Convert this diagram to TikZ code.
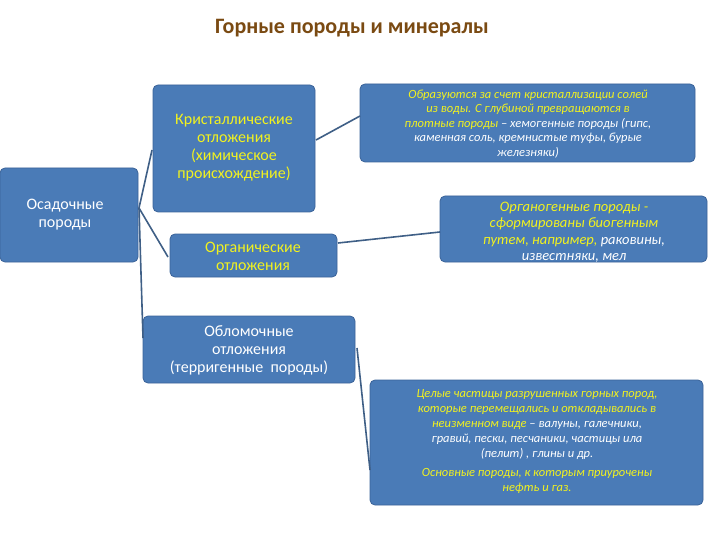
\documentclass[tikz,border=0pt]{standalone}
\usepackage{fontspec}
\setmainfont{Carlito}
\begin{document}
\begin{tikzpicture}[x=1pt,y=-1pt,
 bx/.style={fill=boxblue,draw=boxedge,line width=0.8pt,rounded corners=5pt},
 conn/.style={draw=lineblue,line width=1.6pt},
 ty/.style={text=yel,align=center,font=\fontsize{16}{18}\selectfont},
 tw/.style={text=white,align=center,font=\fontsize{16}{18}\selectfont},
 ti/.style={align=center,font=\itshape\fontsize{12.5}{14.5}\selectfont}]
\definecolor{boxblue}{HTML}{4A7BB7}
\definecolor{boxedge}{HTML}{3A6298}
\definecolor{lineblue}{HTML}{3F5F86}
\definecolor{yel}{HTML}{F2F21E}
\definecolor{ttl}{HTML}{7A4A12}
\useasboundingbox (0,0) rectangle (720,540);
\node[font=\bfseries\fontsize{22}{24}\selectfont,text=ttl] (title) at (352,28) {Горные породы и минералы};
% boxes
\path[bx] (0,168) rectangle (138,262);
\node[tw] (osad) at (65,215) {Осадочные\\породы};
\path[bx] (153,85) rectangle (315,212);
\node[ty] (kris) at (234,148) {Кристаллические\\отложения\\(химическое\\происхождение)};
\path[bx] (170,234) rectangle (337,277);
\node[ty] (org) at (253,256) {Органические\\отложения};
\path[bx] (143,316) rectangle (355,383);
\node[tw] (obl) at (249,350) {Обломочные\\отложения\\(терригенные\ \ породы)};
\path[bx] (360,84) rectangle (695,162);
\node[ti] (r1) at (528,124) {\color{yel}Образуются за счет кристаллизации солей\\
\color{yel}из воды. С глубиной превращаются в\\
\color{yel}плотные породы \color{white}– хемогенные породы (гипс,\\
\color{white}каменная соль, кремнистые туфы, бурые\\
\color{white}железняки)};
\path[bx] (440,196) rectangle (707,262);
\node[ti,font=\itshape\fontsize{14.5}{16.5}\selectfont] (r2) at (574,232) {\color{yel}Органогенные породы -\\
\color{yel}сформированы биогенным\\
\color{yel}путем, например, \color{white}раковины,\\
\color{white}известняки, мел};
\path[bx] (370,380) rectangle (703,505);
\node[ti,font=\itshape\fontsize{12.5}{15}\selectfont] (r3) at (537,442) {\color{yel}Целые частицы разрушенных горных пород,\\
\color{yel}которые перемещались и откладывались в\\
\color{yel}неизменном виде \color{white}– валуны, галечники,\\
\color{white}гравий, пески, песчаники, частицы ила\\
\color{white}(пелит) , глины и др.\\[4pt]
\color{yel}Основные породы, к которым приурочены\\
\color{yel}нефть и газ.};
% connectors
\coordinate (o1) at (139,208);
\coordinate (k1) at (152,150);
\coordinate (g1) at (168,257);
\coordinate (b1) at (143,338);
\draw[conn] (o1) -- (k1);
\draw[conn] (o1) -- (g1);
\draw[conn] (o1) -- (b1);
\coordinate (k2) at (316,140);
\coordinate (q1) at (360,116);
\draw[conn] (k2) -- (q1);
\coordinate (g2) at (338,243);
\coordinate (q2) at (440,232);
\draw[conn] (g2) -- (q2);
\coordinate (b2) at (357,348);
\coordinate (q3) at (370,470);
\draw[conn] (b2) -- (q3);
\end{tikzpicture}
\end{document}
